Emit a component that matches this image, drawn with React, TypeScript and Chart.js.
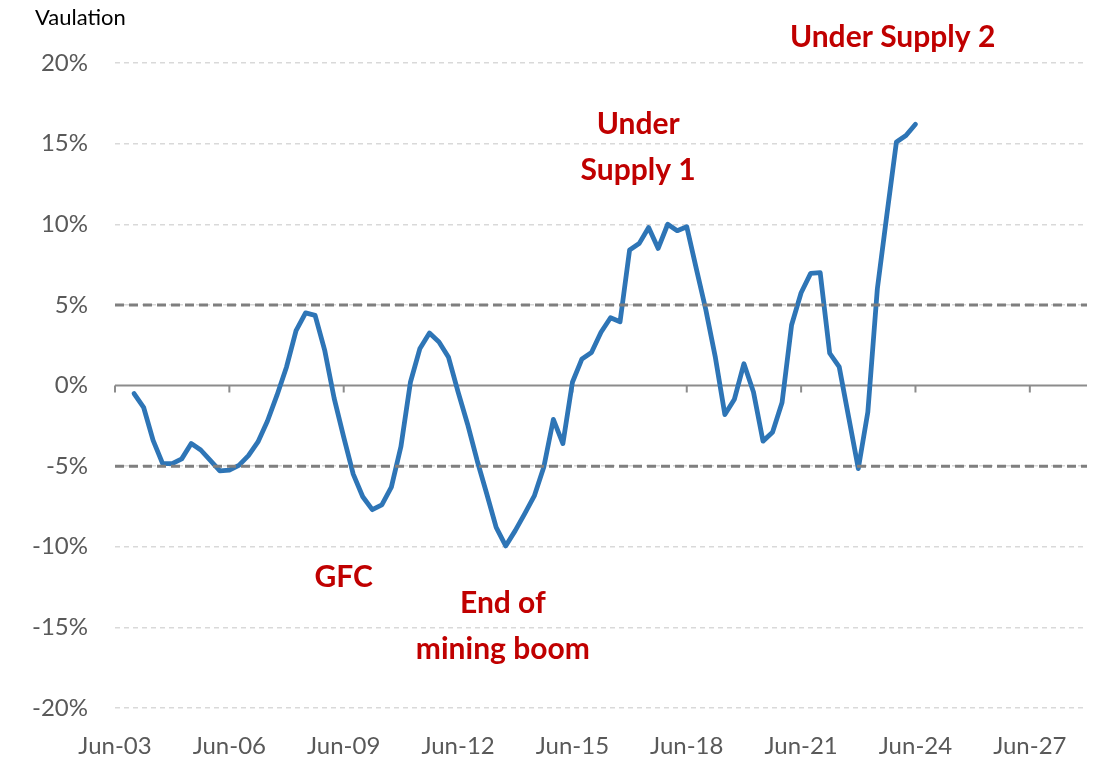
import React, { useEffect, useRef } from "react";
import { Chart, registerables } from "chart.js";

Chart.register(...registerables);

// Quarterly categories from Jun-03 to Dec-28
const quarterMonths = ["Mar", "Jun", "Sep", "Dec"];
const firstYear = 2003;
const firstQuarter = 1; // Jun
const categoryCount = 103;
const categories: string[] = [];
for (let i = 0; i < categoryCount; i++) {
  const q = firstQuarter + i;
  const y = firstYear + Math.floor(q / 4);
  categories.push(`${quarterMonths[q % 4]}-${String(y % 100).padStart(2, "0")}`);
}

// Valuation series (%), quarterly Dec-03 .. Jun-24
const seriesStartLabel = "Dec-03";
const valuation: number[] = [
  -0.5, -1.35, -3.4, -4.85, -4.85, -4.55, -3.6, -4.0, -4.65, -5.3,
  -5.25, -4.95, -4.35, -3.5, -2.2, -0.6, 1.15, 3.4, 4.5, 4.35,
  2.2, -0.8, -3.2, -5.5, -6.9, -7.7, -7.4, -6.3, -3.8, 0.2,
  2.3, 3.25, 2.7, 1.75, -0.4, -2.4, -4.65, -6.7, -8.8, -9.95,
  -9.0, -7.95, -6.85, -5.05, -2.1, -3.6, 0.2, 1.65, 2.05, 3.3,
  4.2, 3.95, 8.4, 8.8, 9.8, 8.5, 10.0, 9.6, 9.85, 7.25,
  4.7, 1.75, -1.8, -0.85, 1.35, -0.4, -3.45, -2.9, -1.05, 3.75,
  5.75, 6.95, 7.0, 2.0, 1.15, -2.0, -5.15, -1.65, 6.0, 10.6,
  15.1, 15.5, 16.2,
];

const yTicks = [-20, -15, -10, -5, 0, 5, 10, 15, 20];
const bandLines = [5, -5];
const axisTitle = "Vaulation";
const tickEvery = 12;

type Note = { lines: string[]; cat: number; value: number };
const notes: Note[] = [
  { lines: ["Under Supply 2"], cat: 81.6, value: 21.6 },
  { lines: ["Under", "Supply 1"], cat: 54.9, value: 16.2 },
  { lines: ["GFC"], cat: 24.0, value: -11.9 },
  { lines: ["End of", "mining boom"], cat: 40.7, value: -13.5 },
];

const FONT = "Lato, 'Open Sans', sans-serif";

const overlayPlugin = {
  id: "overlay",
  beforeDatasetsDraw(chart: any) {
    const { ctx, chartArea, scales } = chart;
    const y0 = scales.y.getPixelForValue(0);
    ctx.save();
    ctx.strokeStyle = "#8C8C8C";
    ctx.lineWidth = 2;
    ctx.beginPath();
    ctx.moveTo(chartArea.left, y0);
    ctx.lineTo(chartArea.right, y0);
    for (let i = 0; i < categories.length; i += tickEvery) {
      const x = scales.x.getPixelForValue(i);
      ctx.moveTo(x, y0);
      ctx.lineTo(x, y0 + 7);
    }
    ctx.stroke();
    ctx.restore();
  },
  afterDatasetsDraw(chart: any) {
    const { ctx, chartArea, scales } = chart;
    ctx.save();
    ctx.strokeStyle = "#7F7F7F";
    ctx.lineWidth = 3;
    ctx.setLineDash([9, 5]);
    for (const v of bandLines) {
      const y = scales.y.getPixelForValue(v);
      ctx.beginPath();
      ctx.moveTo(chartArea.left, y);
      ctx.lineTo(chartArea.right, y);
      ctx.stroke();
    }
    ctx.setLineDash([]);
    ctx.fillStyle = "#C00000";
    ctx.font = `bold 30px ${FONT}`;
    ctx.textAlign = "center";
    ctx.textBaseline = "middle";
    for (const n of notes) {
      const x = scales.x.getPixelForValue(n.cat);
      const y = scales.y.getPixelForValue(n.value);
      n.lines.forEach((t, k) => ctx.fillText(t, x, y + k * 46));
    }
    ctx.fillStyle = "#000000";
    ctx.font = `22px ${FONT}`;
    ctx.textAlign = "left";
    ctx.fillText(axisTitle, 35, 18);
    ctx.restore();
  },
};

export default function App() {
  const ref = useRef<HTMLCanvasElement>(null);
  useEffect(() => {
    document.body.style.margin = "0";
    const offset = categories.indexOf(seriesStartLabel);
    const data = categories.map((_, i) => {
      const k = i - offset;
      return k >= 0 && k < valuation.length ? valuation[k] : null;
    });
    const chart = new Chart(ref.current!, {
      type: "line",
      data: {
        labels: categories,
        datasets: [
          {
            data,
            borderColor: "#2E75B6",
            borderWidth: 4.8,
            pointRadius: 0,
            tension: 0,
            spanGaps: false,
            borderCapStyle: "round",
            borderJoinStyle: "round",
          },
        ],
      },
      options: {
        animation: false,
        responsive: false,
        layout: { padding: { top: 63, right: 15, left: 0, bottom: 0 } },
        plugins: { legend: { display: false }, tooltip: { enabled: false } },
        scales: {
          x: {
            type: "category",
            grid: { display: false },
            border: { display: false },
            afterFit: (s: any) => {
              s.height = 63;
            },
            ticks: {
              autoSkip: false,
              maxRotation: 0,
              padding: 16,
              color: "#595959",
              font: { family: FONT, size: 24 },
              callback: (_v: any, i: number) => (i % tickEvery === 0 ? categories[i] : null),
            },
          },
          y: {
            min: -20,
            max: 20,
            afterFit: (s: any) => {
              s.width = 115;
            },
            afterBuildTicks: (s: any) => {
              s.ticks = yTicks.map((v) => ({ value: v }));
            },
            border: { display: false, dash: [5, 4] },
            grid: {
              drawTicks: false,
              color: (c: any) => (c.tick && c.tick.value === 0 ? "rgba(0,0,0,0)" : "#D9D9D9"),
              lineWidth: 1.5,
            },
            ticks: {
              padding: 27,
              color: "#595959",
              font: { family: FONT, size: 24 },
              callback: (v: any) => `${v}%`,
            },
          },
        },
      },
      plugins: [overlayPlugin],
    });
    return () => chart.destroy();
  }, []);
  return (
    <div style={{ position: "absolute", left: 0, top: 0, width: 1102, height: 771 }}>
      <canvas ref={ref} width={1102} height={771} />
    </div>
  );
}
